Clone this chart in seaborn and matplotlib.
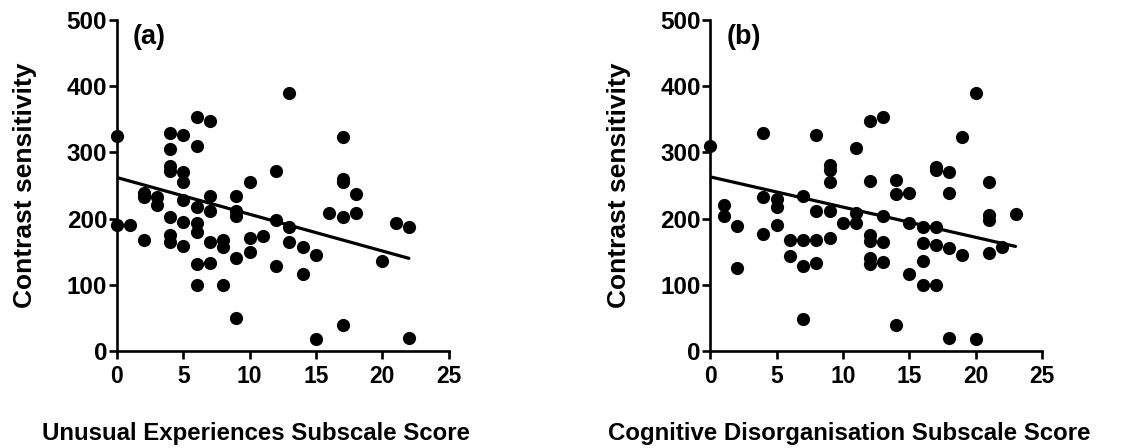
import pandas as pd
import seaborn as sns
import matplotlib
matplotlib.use('Agg')
import matplotlib.pyplot as plt

# (a) unusual experiences score vs contrast sensitivity
ue_score = [0, 0, 1, 2, 2, 2, 3, 3,
            4, 4, 4, 4, 4, 4, 4,
            5, 5, 5, 5, 5, 5,
            6, 6, 6, 6, 6, 6, 6,
            7, 7, 7, 7, 7,
            8, 8, 8,
            9, 9, 9, 9, 9,
            10, 10, 10,
            11,
            12, 12, 12,
            13, 13, 13,
            14, 14,
            15, 15,
            16,
            17, 17, 17, 17, 17,
            18, 18,
            20,
            21,
            22, 22]
ue_cs = [325, 190, 191, 238, 232, 168, 233, 220,
         330, 305, 279, 272, 203, 175, 165,
         327, 270, 255, 228, 195, 158,
         353, 309, 217, 193, 180, 132, 99,
         347, 234, 212, 164, 133,
         167, 157, 100,
         234, 212, 204, 141, 50,
         256, 170, 149,
         173,
         272, 198, 128,
         389, 187, 165,
         157, 117,
         145, 18,
         208,
         323, 260, 255, 203, 40,
         237, 208,
         136,
         193,
         188, 20]
# fitted regression line as printed in the figure (ends of the line)
ue_fit_x = [0, 22]
ue_fit_y = [262, 140]

# (b) cognitive disorganisation score vs contrast sensitivity
cd_score = [0,
            1, 1,
            2, 2,
            4, 4, 4,
            5, 5, 5,
            6, 6,
            7, 7, 7, 7,
            8, 8, 8, 8,
            9, 9, 9, 9, 9,
            10,
            11, 11, 11,
            12, 12, 12, 12, 12, 12,
            13, 13, 13, 13,
            14, 14, 14,
            15, 15, 15,
            16, 16, 16, 16,
            17, 17, 17, 17, 17,
            18, 18, 18, 18,
            19, 19,
            20, 20,
            21, 21, 21, 21,
            22,
            23]
cd_cs = [309,
         221, 204,
         189, 126,
         330, 232, 177,
         229, 217, 191,
         168, 144,
         234, 168, 128, 49,
         327, 212, 168, 133,
         281, 273, 255, 212, 171,
         194,
         306, 208, 194,
         347, 257, 175, 166, 141, 132,
         354, 204, 164, 134,
         259, 237, 40,
         239, 193, 117,
         188, 163, 136, 100,
         278, 274, 187, 160, 99,
         270, 238, 156, 20,
         324, 145,
         389, 18,
         255, 205, 198, 148,
         157,
         207]
cd_fit_x = [0, 23]
cd_fit_y = [263, 158]

x_ticks = [0, 5, 10, 15, 20, 25]
y_ticks = [0, 100, 200, 300, 400, 500]

sns.set_style('ticks')
plt.rcParams['font.family'] = ['Liberation Sans', 'DejaVu Sans']
plt.rcParams['font.weight'] = 'bold'
plt.rcParams['axes.labelweight'] = 'bold'
for key in ['text.color', 'axes.labelcolor', 'xtick.color', 'ytick.color', 'axes.edgecolor']:
    plt.rcParams[key] = 'black'

panels = [
    (pd.DataFrame({'score': ue_score, 'cs': ue_cs}), ue_fit_x, ue_fit_y,
     'Unusual Experiences Subscale Score', '(a)'),
    (pd.DataFrame({'score': cd_score, 'cs': cd_cs}), cd_fit_x, cd_fit_y,
     'Cognitive Disorganisation Subscale Score', '(b)'),
]

fig, axes = plt.subplots(1, 2, figsize=(11.48, 4.48), dpi=100)
fig.subplots_adjust(left=0.1019, right=0.9077, bottom=0.2165, top=0.9554, wspace=0.789)

for ax, (df, fit_x, fit_y, xlabel, tag) in zip(axes, panels):
    sns.scatterplot(data=df, x='score', y='cs', ax=ax, color='black', s=90,
                    linewidth=0, clip_on=False, zorder=3)
    sns.lineplot(x=fit_x, y=fit_y, ax=ax, color='black', linewidth=2.3)
    ax.set_xlim(0, 25)
    ax.set_ylim(0, 500)
    ax.set_xticks(x_ticks)
    ax.set_yticks(y_ticks)
    ax.tick_params(axis='both', direction='out', length=6, width=1.9)
    ax.tick_params(axis='x', pad=4, labelsize=16.5)
    ax.tick_params(axis='y', pad=1, labelsize=17.5)
    for lab in ax.get_xticklabels() + ax.get_yticklabels():
        lab.set_fontweight('bold')
    for side in ['left', 'bottom']:
        ax.spines[side].set_linewidth(1.9)
    sns.despine(ax=ax)
    ax.set_xlabel(xlabel, fontsize=17.3, fontweight='bold')
    ax.set_ylabel('Contrast sensitivity', fontsize=19, fontweight='bold')
    ax.xaxis.set_label_coords(0.42, -0.213)
    ax.yaxis.set_label_coords(-0.24, 0.5)
    ax.text(0.048, 0.95, tag, transform=ax.transAxes, fontsize=19.5,
            fontweight='bold', va='center', ha='left')

plt.savefig('out.png', dpi=100)
